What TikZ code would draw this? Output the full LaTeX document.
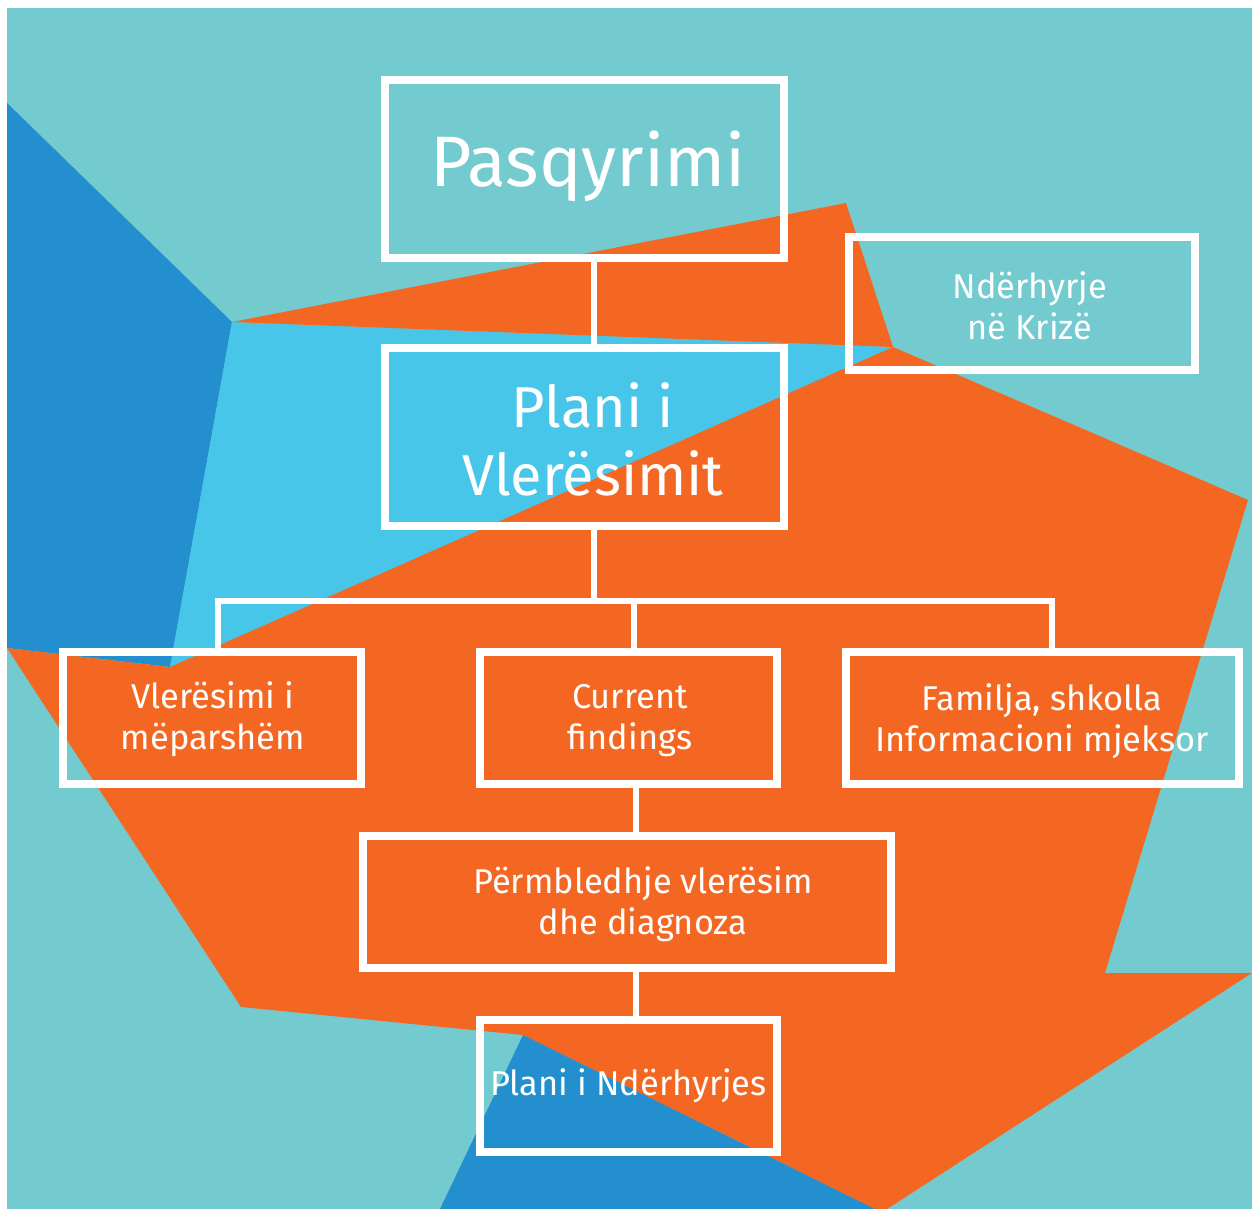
\documentclass[tikz,border=0pt]{standalone}
\usepackage{fontspec}
\setmainfont{Fira Sans}
\definecolor{bgteal}{HTML}{74CBCF}
\definecolor{dblue}{HTML}{238FCE}
\definecolor{lblue}{HTML}{47C6E9}
\definecolor{orng}{HTML}{F46722}
\begin{document}
\begin{tikzpicture}[x=0.5pt,y=-0.5pt,
  box/.style={draw=white, line width=4pt, inner sep=0pt, outer sep=0pt},
  lbl/.style={align=center, text=white, inner sep=0pt, font=\fontsize{17.2}{20.5}\selectfont},
  link/.style={draw=white, line width=2.75pt}]
\useasboundingbox (0,0) rectangle (1252,1209);
\fill[white] (0,0) rectangle (1252,1209);
% background shapes
\fill[bgteal] (7,8) rectangle (1252,1209);
\fill[dblue] (7,103) -- (232,322) -- (170,667) -- (7,648) -- cycle;
\fill[lblue] (232,322) -- (893,347) -- (170,667) -- cycle;
\fill[orng] (232,322) -- (846,203) -- (893,347) -- cycle;
\fill[orng] (893,347) -- (1248,500) -- (1105,973) -- (1252,973) -- (887,1209) -- (875,1209)
  -- (523,1035) -- (241,1007) -- (7,648) -- (170,667) -- cycle;
\fill[dblue] (523,1035) -- (875,1209) -- (440,1209) -- cycle;
% boxes
\node[box, minimum width=199.5pt, minimum height=89pt] (pas) at (584.5,169) {};
\node[lbl, font=\fontsize{35.7}{40}\selectfont] (past) at (588,166) {Pasqyrimi};
\node[box, minimum width=199.5pt, minimum height=89pt] (pv) at (584.5,437) {};
\node[lbl, font=\fontsize{28.8}{34}\selectfont] (pvt) at (593,439) {Plani i\\Vlerësimit};
\node[box, minimum width=173pt, minimum height=66.5pt] (krz) at (1022,303.5) {};
\node[lbl] (krzt) at (1030,306) {Ndërhyrje\\në Krizë};
\node[box, minimum width=149pt, minimum height=66pt] (vm) at (212,718) {};
\node[lbl] (vmt) at (213,719) {Vlerësimi i\\mëparshëm};
\node[box, minimum width=148.5pt, minimum height=66pt] (cf) at (628.5,718) {};
\node[lbl] (cft) at (630,721) {Current\\findings};
\node[box, minimum width=196.5pt, minimum height=66pt] (fam) at (1042.5,718) {};
\node[lbl] (famt) at (1042,721) {Familja, shkolla\\Informacioni mjeksor};
\node[box, minimum width=264pt, minimum height=66pt] (prm) at (627,902) {};
\node[lbl] (prmt) at (643,904) {Përmbledhje vlerësim\\dhe diagnoza};
\node[box, minimum width=148.5pt, minimum height=66pt] (pn) at (628.5,1086) {};
\node[lbl] (pnt) at (628.5,1086) {Plani i Ndërhyrjes};
% connectors
\coordinate (b0) at (594,601);
\coordinate (bl) at (218,601);
\coordinate (bm) at (634,601);
\coordinate (br) at (1052,601);
\coordinate (cx) at (636,800);
\draw[link] (pas.south -| b0) -- (pv.north -| b0);
\draw[link] (pv.south -| b0) -- (b0);
\draw[link, line join=miter] (bl |- vm.north) -- (bl) -- (br) -- (br |- fam.north);
\draw[link] (bm) -- (bm |- cf.north);
\draw[link] (cf.south -| cx) -- (prm.north -| cx);
\draw[link] (prm.south -| cx) -- (pn.north -| cx);
\end{tikzpicture}
\end{document}
